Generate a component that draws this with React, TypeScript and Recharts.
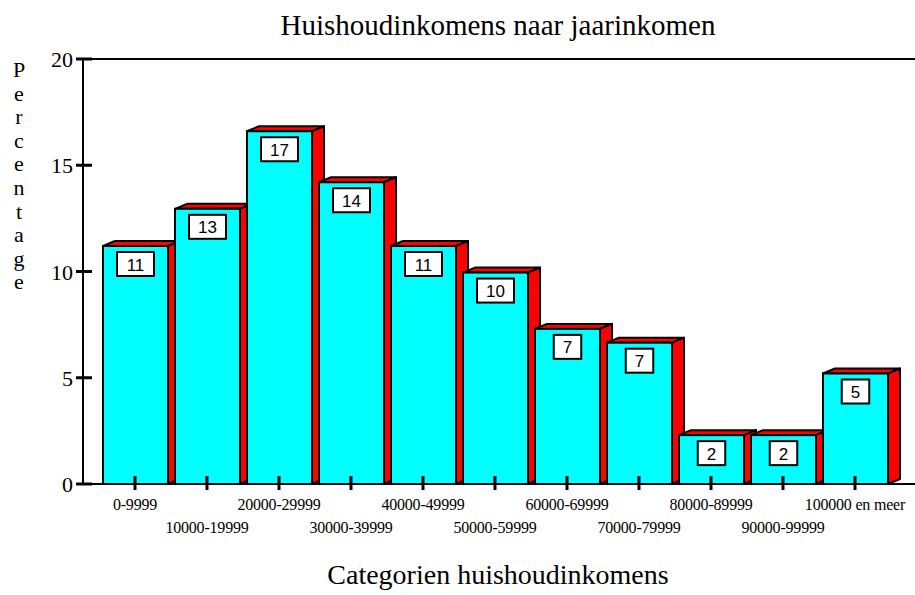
import React from "react";
import { BarChart, Bar, XAxis, YAxis, ReferenceLine } from "recharts";

const categories = [
  "0-9999",
  "10000-19999",
  "20000-29999",
  "30000-39999",
  "40000-49999",
  "50000-59999",
  "60000-69999",
  "70000-79999",
  "80000-89999",
  "90000-99999",
  "100000 en meer",
];
const percentages = [11.2, 12.95, 16.6, 14.2, 11.2, 9.95, 7.3, 6.65, 2.3, 2.3, 5.2];
const valueLabels = ["11", "13", "17", "14", "11", "10", "7", "7", "2", "2", "5"];
const yTicks = [0, 5, 10, 15, 20];
const title = "Huishoudinkomens naar jaarinkomen";
const xTitle = "Categorien huishoudinkomens";
const yTitle = "Percentage";

const data = categories.map((c, i) => ({ cat: c, value: percentages[i], label: valueLabels[i] }));

const SERIF = "'Liberation Serif', 'Times New Roman', serif";
const SANS = "'Liberation Sans', Arial, sans-serif";
const DX = 12;
const DY = 5;

const Bar3D = (props: any) => {
  const { x, y, width, height, payload } = props;
  const w = width;
  const h = height;
  const label: string = payload.label;
  const bw = label.length * 9.5 + 18;
  const cx = x + w / 2;
  return (
    <g>
      <polygon
        points={`${x},${y} ${x + DX},${y - DY} ${x + w + DX},${y - DY} ${x + w},${y}`}
        fill="#ff0000"
        stroke="#000"
        strokeWidth={2}
        strokeLinejoin="round"
      />
      <polygon
        points={`${x + w},${y} ${x + w + DX},${y - DY} ${x + w + DX},${y + h - DY} ${x + w},${y + h}`}
        fill="#ff0000"
        stroke="#000"
        strokeWidth={2}
        strokeLinejoin="round"
      />
      <rect x={x} y={y} width={w} height={h} fill="#00ffff" stroke="#000" strokeWidth={2} />
      <rect x={cx - bw / 2} y={y + 6} width={bw} height={24} fill="#fff" stroke="#000" strokeWidth={2} />
      <text x={cx} y={y + 24.5} textAnchor="middle" fontFamily={SANS} fontSize={17} fill="#000">
        {label}
      </text>
    </g>
  );
};

const YTick = (props: any) => {
  const { x, y, payload } = props;
  return (
    <g>
      <line x1={x - 7} x2={x + 9} y1={y} y2={y} stroke="#000" strokeWidth={3} />
      <text x={x - 10} y={y + 8} textAnchor="end" fontFamily={SERIF} fontSize={22} fill="#000">
        {payload.value}
      </text>
    </g>
  );
};

const XTick = (props: any) => {
  const { x, y, payload, index } = props;
  const row = index % 2;
  return (
    <g>
      <line x1={x} x2={x} y1={y - 8} y2={y + 6} stroke="#000" strokeWidth={3} />
      <text
        x={x}
        y={y + 26 + row * 23}
        textAnchor="middle"
        fontFamily={SERIF}
        fontSize={16}
        letterSpacing={-0.2}
        fill="#000"
      >
        {payload.value}
      </text>
    </g>
  );
};

export default function App() {
  return (
    <div style={{ position: "absolute", left: 0, top: 0, width: 915, height: 595, background: "#fff" }}>
      <BarChart
        width={915}
        height={595}
        data={data}
        margin={{ top: 59, right: 0, bottom: 0, left: 0 }}
        barSize={65}
      >
        <XAxis
          dataKey="cat"
          interval={0}
          padding={{ left: 16, right: 24 }}
          axisLine={{ stroke: "#000", strokeWidth: 2 }}
          tickLine={false}
          tickSize={0}
          tickMargin={0}
          tick={<XTick />}
          height={111}
        />
        <YAxis
          domain={[0, 20]}
          ticks={yTicks}
          width={83}
          axisLine={{ stroke: "#000", strokeWidth: 2 }}
          tickLine={false}
          tickSize={0}
          tickMargin={0}
          tick={<YTick />}
        />
        <ReferenceLine y={20} stroke="#000" strokeWidth={2} />
        <Bar dataKey="value" isAnimationActive={false} shape={<Bar3D />} />
        <text x={498} y={35} textAnchor="middle" fontFamily={SERIF} fontSize={29} fill="#000">
          {title}
        </text>
        <text x={498} y={584} textAnchor="middle" fontFamily={SERIF} fontSize={28} fill="#000">
          {xTitle}
        </text>
        <g>
          {yTitle.split("").map((ch, i) => (
            <text
              key={i}
              x={19}
              y={77 + i * 23.6}
              textAnchor="middle"
              fontFamily={SERIF}
              fontSize={22}
              fill="#000"
            >
              {ch}
            </text>
          ))}
        </g>
      </BarChart>
    </div>
  );
}
